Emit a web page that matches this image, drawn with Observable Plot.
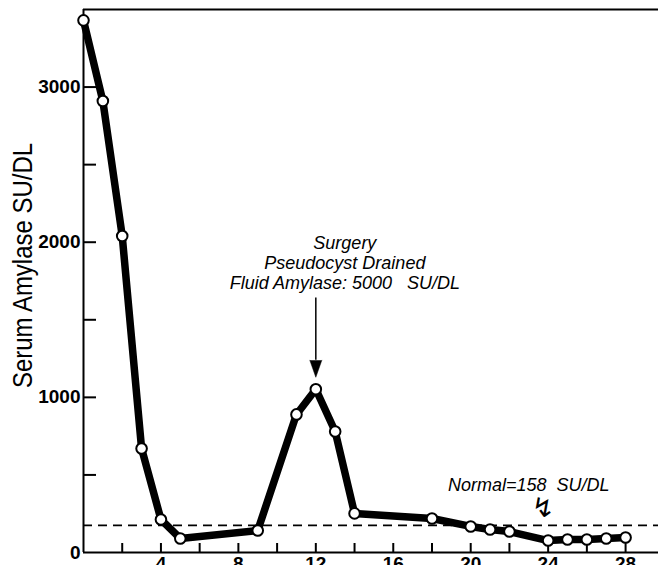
<!DOCTYPE html>
<html><head><meta charset="utf-8">
<script src="https://cdn.jsdelivr.net/npm/d3@7"></script>
<script src="https://cdn.jsdelivr.net/npm/@observablehq/plot@0.6"></script>
<style>html,body{margin:0;padding:0;background:#fff;overflow:hidden;}</style>
</head><body><div id="chart"></div>
<script>
// ---- data ----
const days    = [0, 1, 2, 3, 4, 5, 9, 11, 12, 13, 14, 18, 20, 21, 22, 24, 25, 26, 27, 28];
const amylase = [3430, 2910, 2040, 670, 213, 90, 142, 890, 1052, 780, 252, 219, 168, 148, 135, 77, 84, 84, 90, 97];
const yTicks = [500, 1000, 1500, 2000, 2500, 3000];
const yTickLabels = [0, 1000, 2000, 3000];
const xTicks = [2, 4, 6, 8, 10, 12, 14, 16, 18, 20, 22, 24, 26, 28];
const xTickLabels = [4, 8, 12, 16, 20, 24, 28];
const yMax = 3500;
const xMax = 29.7;
const normalLevel = 175;
const yTitle = "Serum Amylase SU/DL";
const annotationLines = ["Surgery", "Pseudocyst Drained", "Fluid Amylase:\u00a05000\u00a0\u00a0 SU/DL"];
const annotation = [{day: 13.5, value: 2045, text: annotationLines.join("\n")}];
const surgeryArrow = [{day: 12, from: 1640, to: 1239}];
const normalNote = [{day: 23.0, value: 432, text: "Normal=158\u00a0 SU/DL"}];
const normalMarker = [{day: 23.74, value: 284, text: "\u21AF"}];
const titlePos = [{day: 0, value: 1850, text: yTitle}];

const data = days.map((d, i) => ({day: d, value: amylase[i]}));
const W = 658, H = 575, mL = 83, mR = 0, mT = 9, mB = 23;
const plotW = W - mL - mR, plotH = H - mT - mB;

const chart = Plot.plot({
  width: W, height: H,
  marginLeft: mL, marginRight: mR, marginTop: mT, marginBottom: mB,
  style: {fontFamily: "Liberation Sans, Arial, sans-serif", color: "black", background: "white"},
  x: {domain: [0, xMax]},
  y: {domain: [0, yMax]},
  marks: [
    Plot.ruleY([normalLevel], {stroke: "black", strokeWidth: 1.8, strokeDasharray: "9,6"}),
    Plot.ruleY(yTicks, {insetRight: plotW - 13, strokeWidth: 2}),
    Plot.ruleX(xTicks, {insetTop: plotH - 9, strokeWidth: 2}),
    Plot.ruleX([0], {strokeWidth: 2}),
    Plot.ruleY([0, yMax], {strokeWidth: 2}),
    Plot.axisY(yTickLabels, {tickSize: 0, tickPadding: 3, fontSize: 19, fontWeight: "bold", tickFormat: d => String(d), label: null}),
    Plot.axisX(xTickLabels, {tickSize: 0, tickPadding: 4, fontSize: 19, fontWeight: "bold", tickFormat: d => String(d), label: null}),
    Plot.line(data, {x: "day", y: "value", stroke: "black", strokeWidth: 7.5, strokeLinejoin: "round", strokeLinecap: "round"}),
    Plot.dot(data, {x: "day", y: "value", r: 5.3, fill: "white", stroke: "black", strokeWidth: 2}),
    Plot.text(annotation, {x: "day", y: "value", text: "text", lineAnchor: "top", lineHeight: 1.11, fontSize: 18, fontStyle: "italic", textAnchor: "middle"}),
    Plot.ruleX(surgeryArrow, {x: "day", y1: "from", y2: "to", strokeWidth: 1.5}),
    Plot.vector(surgeryArrow, {x: "day", y: "to", length: 17, rotate: 180, shape: "spike", r: 6, fill: "black", stroke: "black", strokeWidth: 0.5, anchor: "start"}),
    Plot.text(normalNote, {x: "day", y: "value", text: "text", fontSize: 18, fontStyle: "italic"}),
    Plot.text(normalMarker, {x: "day", y: "value", text: "text", fontSize: 27, fontFamily: "DejaVu Sans"}),
    Plot.text(titlePos, {x: "day", y: "value", text: "text", rotate: -90, dx: -60.5, fontSize: 28})
  ]
});
document.getElementById("chart").appendChild(chart);
d3.select(chart).selectAll("text")
  .filter(function() { return this.textContent === yTitle; })
  .attr("textLength", 245).attr("lengthAdjust", "spacingAndGlyphs");
</script>
</body></html>
